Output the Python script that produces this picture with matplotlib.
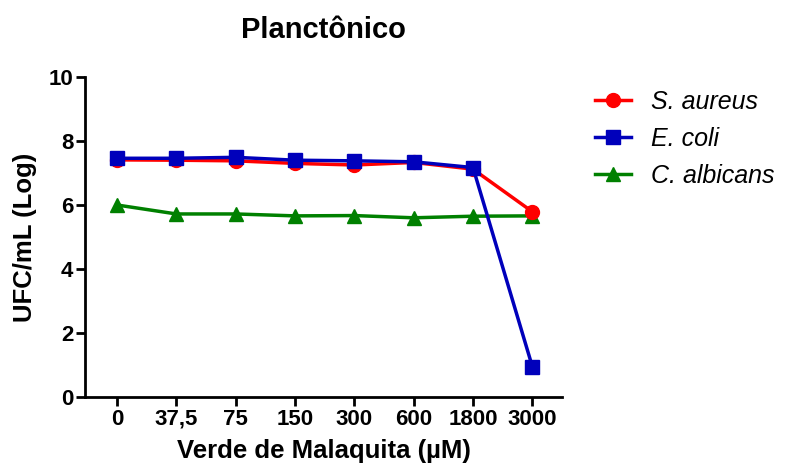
import matplotlib
matplotlib.use("Agg")
import matplotlib.pyplot as plt

plt.rcParams['font.family'] = ['Liberation Sans', 'DejaVu Sans']

# data
concentrations = ["0", "37,5", "75", "150", "300", "600", "1800", "3000"]
s_aureus = [7.41, 7.40, 7.38, 7.30, 7.25, 7.33, 7.12, 5.79]
e_coli = [7.46, 7.46, 7.49, 7.40, 7.38, 7.35, 7.17, 0.95]
c_albicans = [6.00, 5.72, 5.72, 5.66, 5.67, 5.60, 5.65, 5.66]

fig = plt.figure(figsize=(7.85, 4.66), dpi=100)
ax = fig.add_axes([85 / 785, 69 / 466, 477 / 785, 320 / 466])

x = list(range(len(concentrations)))
ax.plot(x, s_aureus, "-o", color="#ff0000", lw=2.5, markersize=10, label="S. aureus", clip_on=False, zorder=3)
ax.plot(x, e_coli, "-s", color="#0000bb", lw=2.5, markersize=9.5, label="E. coli", clip_on=False, zorder=4)
ax.plot(x, c_albicans, "-^", color="#008000", lw=2.5, markersize=10, label="C. albicans", clip_on=False, zorder=2)

ax.set_xlim(-0.54, 7.5)
ax.set_ylim(0, 10)
ax.set_xticks(x)
ax.set_xticklabels(concentrations)
ax.set_yticks([0, 2, 4, 6, 8, 10])

for s in ["top", "right"]:
    ax.spines[s].set_visible(False)
for s in ["left", "bottom"]:
    ax.spines[s].set_linewidth(2)
ax.tick_params(width=2, length=6.5, pad=2, labelsize=16)
for lbl in ax.get_xticklabels() + ax.get_yticklabels():
    lbl.set_fontweight("bold")

ax.set_title("Planctônico", fontsize=21, fontweight="bold", pad=28)
ax.set_xlabel("Verde de Malaquita (µM)", fontsize=18.5, fontweight="bold")
ax.set_ylabel("UFC/mL (Log)", fontsize=18.5, fontweight="bold")
ax.xaxis.label.set_va("center")
ax.yaxis.label.set_va("center")
ax.xaxis.set_label_coords(0.5, (397 - 451) / 320)
ax.yaxis.set_label_coords((25 - 85) / 477, 0.5)

leg = fig.legend(loc="upper left", bbox_to_anchor=(595 / 785, 1 - 90 / 466), frameon=False,
                 prop={"style": "italic", "size": 18}, handlelength=1.45, labelspacing=0.52,
                 borderaxespad=0, borderpad=0, handletextpad=0.8)

fig.savefig("out.png", dpi=100)
